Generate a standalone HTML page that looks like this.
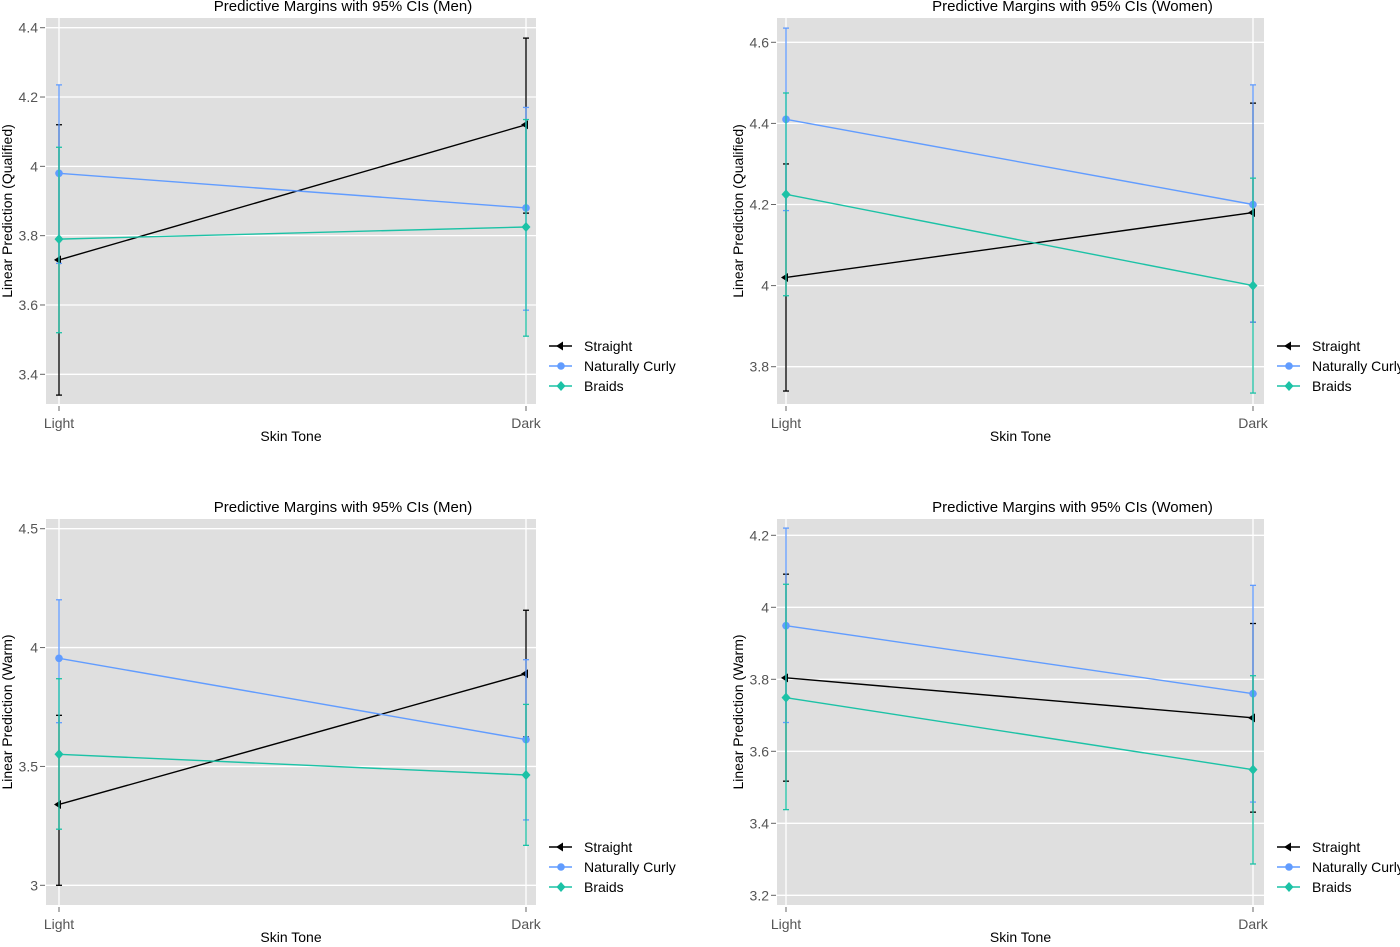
<!DOCTYPE html>
<html><head><meta charset="utf-8"><style>
body{margin:0;background:#fff;width:1400px;height:942px;overflow:hidden;font-family:"Liberation Sans",sans-serif}
svg text{font-family:"Liberation Sans",sans-serif}
</style></head><body>
<svg id="root" width="1400" height="942" xmlns="http://www.w3.org/2000/svg"></svg>
<script>
const categories = ["Light","Dark"];
const seriesNames = ["Straight","Naturally Curly","Braids"];
const seriesColors = ["#000000","#619CFF","#1CC2A6"];
// Panel 1: Men, Qualified
const p1Mean = [[3.73,4.12],[3.98,3.88],[3.79,3.825]];
const p1Lo = [[3.34,3.865],[3.72,3.585],[3.52,3.51]];
const p1Hi = [[4.12,4.37],[4.235,4.17],[4.055,4.135]];
const p1Ticks = [3.4,3.6,3.8,4,4.2,4.4];
// Panel 2: Women, Qualified
const p2Mean = [[4.02,4.18],[4.41,4.20],[4.225,4.00]];
const p2Lo = [[3.74,3.91],[4.185,3.91],[3.975,3.735]];
const p2Hi = [[4.30,4.45],[4.635,4.495],[4.475,4.265]];
const p2Ticks = [3.8,4,4.2,4.4,4.6];
// Panel 3: Men, Warm
const p3Mean = [[3.34,3.89],[3.955,3.613],[3.551,3.464]];
const p3Lo = [[3.0,3.624],[3.684,3.275],[3.236,3.168]];
const p3Hi = [[3.715,4.157],[4.201,3.949],[3.869,3.761]];
const p3Ticks = [3,3.5,4,4.5];
// Panel 4: Women, Warm
const p4Mean = [[3.804,3.693],[3.949,3.76],[3.749,3.549]];
const p4Lo = [[3.517,3.431],[3.68,3.459],[3.438,3.287]];
const p4Hi = [[4.092,3.955],[4.22,4.061],[4.064,3.81]];
const p4Ticks = [3.2,3.4,3.6,3.8,4,4.2];

const NS="http://www.w3.org/2000/svg";
const root=document.getElementById('root');
function mk(tag,attrs,parent){const e=document.createElementNS(NS,tag);for(const k in attrs)e.setAttribute(k,attrs[k]);(parent||root).appendChild(e);return e;}

function panel(cfg){
  const g=mk('g',{});
  
  
  const L=cfg.left,R=cfg.right,T=cfg.top,B=cfg.bottom;
  const bg=mk('rect',{x:L,y:T,width:R-L,height:B-T,fill:'#dfdfdf'},g);
  
  
  const y=v=>cfg.y0px+(v-cfg.y0)*(cfg.y1px-cfg.y0px)/(cfg.y1-cfg.y0);
  const xs=[cfg.xl,cfg.xd];
  const x=i=>xs[i];
  cfg.ticks.forEach(t=>{
    mk('line',{x1:L,x2:R,y1:y(t),y2:y(t),stroke:'#fff','stroke-width':1.3},g);
    mk('line',{x1:L-6,x2:L-1,y1:y(t),y2:y(t),stroke:'#666','stroke-width':1},g);
    const tx=mk('text',{x:L-8,y:y(t)+5,'text-anchor':'end','font-size':14,fill:'#555'},g);
    tx.textContent=String(t);
    
    
  });
  categories.forEach((c,i)=>{
    mk('line',{x1:x(i),x2:x(i),y1:T,y2:B,stroke:'#fff','stroke-width':1.3},g);
    mk('line',{x1:x(i),x2:x(i),y1:B+2,y2:B+7,stroke:'#666','stroke-width':1},g);
    const tx=mk('text',{x:x(i),y:B+24,'text-anchor':'middle','font-size':14,fill:'#555'},g);
    tx.textContent=c;
    
    
  });
  seriesNames.forEach((s,si)=>{
    const col=seriesColors[si];
    const sg=mk('g',{},g);
    
    
    categories.forEach((c,i)=>{
      const lo=y(cfg.lo[si][i]),hi=y(cfg.hi[si][i]);
      mk('line',{x1:x(i),x2:x(i),y1:lo,y2:hi,stroke:col,'stroke-width':1.3},sg);
      mk('line',{x1:x(i)-3,x2:x(i)+3,y1:lo,y2:lo,stroke:col,'stroke-width':1.3},sg);
      mk('line',{x1:x(i)-3,x2:x(i)+3,y1:hi,y2:hi,stroke:col,'stroke-width':1.3},sg);
    });
    mk('line',{x1:x(0),x2:x(1),y1:y(cfg.mean[si][0]),y2:y(cfg.mean[si][1]),stroke:col,'stroke-width':1.4},sg);
    categories.forEach((c,i)=>{
      marker(sg,si,x(i),y(cfg.mean[si][i]));
    });
  });
  const t=mk('text',{x:(L+R)/2+52,y:cfg.titleY,'text-anchor':'middle','font-size':15,fill:'#000'},g);
  t.textContent=cfg.title;
  
  
  const xt=mk('text',{x:(L+R)/2,y:B+37,'text-anchor':'middle','font-size':14,fill:'#000'},g);
  xt.textContent='Skin Tone';
  
  
  const yt=mk('text',{x:0,y:0,'text-anchor':'middle','font-size':14,fill:'#000',transform:`translate(${L-34},${(T+B)/2}) rotate(-90)`},g);
  yt.textContent=cfg.ytitle;
  
  
  seriesNames.forEach((s,si)=>{
    const ly=cfg.legY+si*20;
    const lg=mk('g',{},g);
    
    
    mk('line',{x1:R+13,x2:R+36,y1:ly,y2:ly,stroke:seriesColors[si],'stroke-width':1.4},lg);
    marker(lg,si,R+25,ly);
    const lt=mk('text',{x:R+48,y:ly+5,'font-size':14,fill:'#000'},lg);
    lt.textContent=s;
  });
}
function marker(p,si,cx,cy){
  const col=seriesColors[si];
  if(si===0) mk('polygon',{points:`${cx-5},${cy} ${cx+2},${cy-4.5} ${cx+2},${cy+4.5}`,fill:col},p);
  else if(si===1) mk('circle',{cx:cx,cy:cy,r:3.8,fill:col},p);
  else mk('polygon',{points:`${cx},${cy-5} ${cx+4.5},${cy} ${cx},${cy+5} ${cx-4.5},${cy}`,fill:col},p);
}
panel({name:'panel-men-qualified',left:46,right:536,top:18,bottom:404,xl:59,xd:526,y0:4.4,y0px:27.7,y1:3.4,y1px:374.3,ticks:p1Ticks,mean:p1Mean,lo:p1Lo,hi:p1Hi,title:'Predictive Margins with 95% CIs (Men)',titleY:11,ytitle:'Linear Prediction (Qualified)',legY:346});
panel({name:'panel-women-qualified',left:777,right:1264,top:18,bottom:404,xl:786,xd:1253,y0:4.6,y0px:42.3,y1:3.8,y1px:366.7,ticks:p2Ticks,mean:p2Mean,lo:p2Lo,hi:p2Hi,title:'Predictive Margins with 95% CIs (Women)',titleY:11,ytitle:'Linear Prediction (Qualified)',legY:346});
panel({name:'panel-men-warm',left:46,right:536,top:519,bottom:905,xl:59,xd:526,y0:4.5,y0px:528.7,y1:3,y1px:885.3,ticks:p3Ticks,mean:p3Mean,lo:p3Lo,hi:p3Hi,title:'Predictive Margins with 95% CIs (Men)',titleY:512,ytitle:'Linear Prediction (Warm)',legY:847});
panel({name:'panel-women-warm',left:777,right:1264,top:519,bottom:905,xl:786,xd:1253,y0:4.2,y0px:535.3,y1:3.2,y1px:895.3,ticks:p4Ticks,mean:p4Mean,lo:p4Lo,hi:p4Hi,title:'Predictive Margins with 95% CIs (Women)',titleY:512,ytitle:'Linear Prediction (Warm)',legY:847});
</script>
</body></html>
